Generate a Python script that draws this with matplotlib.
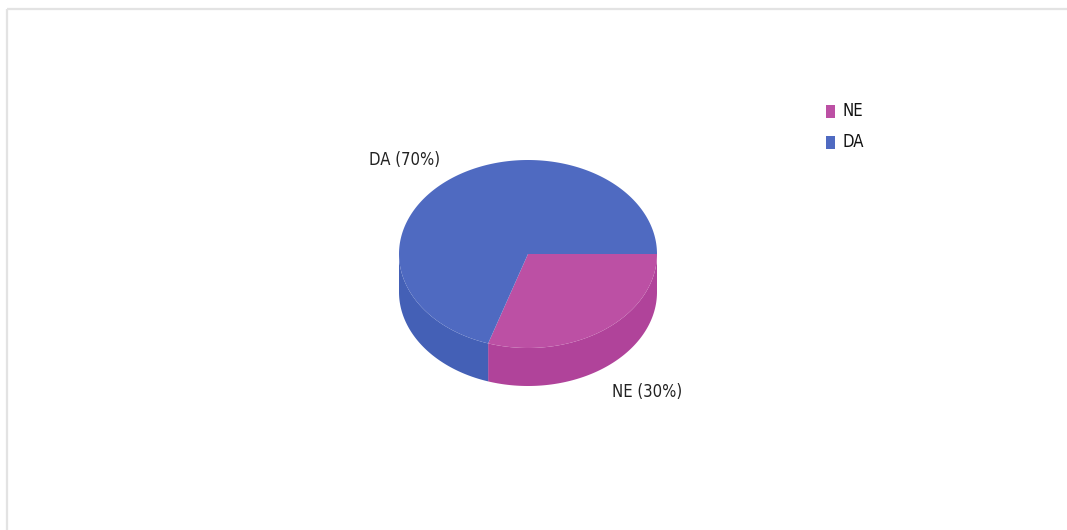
import numpy as np
import matplotlib
matplotlib.use("Agg")
import matplotlib.pyplot as plt
from matplotlib.patches import Polygon, Rectangle

categories = ["NE", "DA"]
values = [30, 70]
top_colors = ["#BC50A4", "#4F6AC1"]
side_colors = ["#B0439A", "#4460B6"]

W, H = 1067, 530
fig = plt.figure(figsize=(W / 100, H / 100), dpi=100)
ax = fig.add_axes([0, 0, 1, 1])
ax.set_xlim(0, W)
ax.set_ylim(H, 0)
ax.axis("off")

# frame lines
ax.plot([7, W], [9, 9], color="#E3E3E3", lw=1.6, solid_capstyle="butt")
ax.plot([7, 7], [9, H], color="#E3E3E3", lw=1.6, solid_capstyle="butt")

cx, cy, rx, ry, depth = 528, 254, 129, 94, 38


def pt(a):
    r = np.radians(a)
    return cx + rx * np.cos(r), cy - ry * np.sin(r)


total = float(sum(values))
start = 0.0
slices = []
for cat, v in zip(categories, values):
    span = 360.0 * v / total
    a1, a2 = start - span, start  # clockwise from 3 o'clock
    slices.append((a1, a2))
    start = a1

# sides (front half: angles between -180 and 0)
for (a1, a2), sc in zip(slices, side_colors):
    lo, hi = max(a1, -180), min(a2, 0)
    if lo < hi:
        angs = np.linspace(lo, hi, 100)
        xs, ys = pt(angs)
        poly = np.column_stack([np.r_[xs, xs[::-1]], np.r_[ys, ys[::-1] + depth]])
        ax.add_patch(Polygon(poly, closed=True, fc=sc, ec="none", zorder=2))

# top faces
for (a1, a2), tc in zip(slices, top_colors):
    angs = np.linspace(a1, a2, 200)
    xs, ys = pt(angs)
    poly = np.column_stack([np.r_[cx, xs], np.r_[cy, ys]])
    ax.add_patch(Polygon(poly, closed=True, fc=tc, ec="none", zorder=3))

# labels
font = "DejaVu Sans"
ax.text(405, 160, f"DA ({values[1]}%)", ha="center", va="center",
        fontsize=12, color="#222222", family=font, fontstretch="condensed")
ax.text(647, 392, f"NE ({values[0]}%)", ha="center", va="center",
        fontsize=12, color="#222222", family=font, fontstretch="condensed")

# legend
for i, (cat, tc) in enumerate(zip(categories, top_colors)):
    y = 111 + 31 * i
    ax.add_patch(Rectangle((826, y - 6.5), 9, 13, fc=tc, ec="none"))
    ax.text(843, y, cat, ha="left", va="center", fontsize=12, color="#111111",
            family=font, fontstretch="condensed")

fig.savefig("out.png", dpi=100)
